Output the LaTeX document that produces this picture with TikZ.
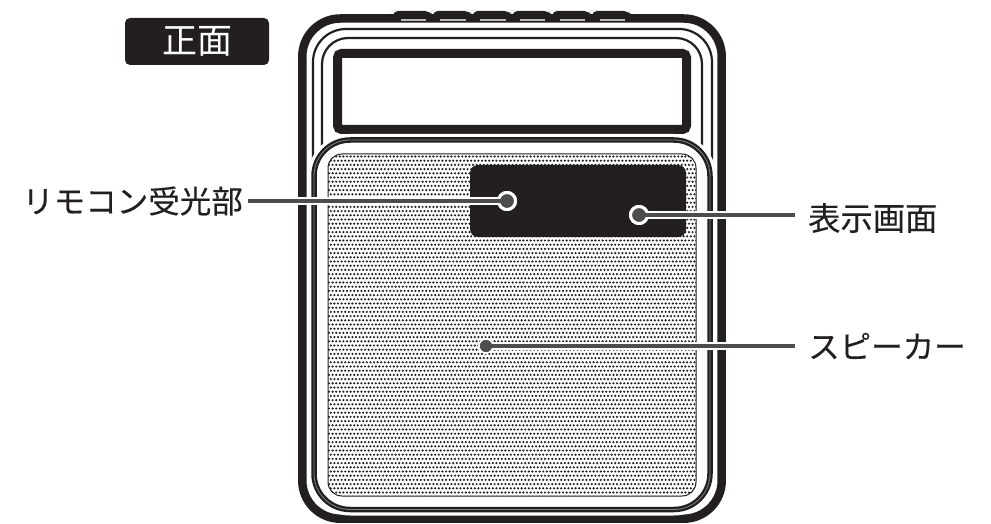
\documentclass[tikz,border=0pt]{standalone}
\usepackage{fontspec}
\newfontfamily\jpfont[FakeBold=0.25]{Noto Sans CJK JP}
\newfontfamily\jpbadge{Noto Sans CJK JP}
\definecolor{ink}{HTML}{231F20}
\definecolor{leadc}{HTML}{4D4D4F}
\tikzset{
  x=1pt,y=-1pt,
  body/.style={draw=ink,line width=8.5pt},
  thinline/.style={draw=ink,line width=2.2pt},
  halo/.style={draw=white,line width=8pt},
  leader/.style={draw=leadc,line width=4pt},
  lab/.style={font=\jpfont\fontsize{31.5}{32}\selectfont,text=ink,inner sep=0pt},
  ringdot/.style={circle,fill=leadc,draw=white,line width=3pt,minimum size=17pt,inner sep=0pt},
  plaindot/.style={circle,fill=leadc,draw=white,line width=1.5pt,minimum size=14pt,inner sep=0pt},
}
\begin{document}
\begin{tikzpicture}
\useasboundingbox (0,0) rectangle (991,524);
% top buttons
\foreach \i in {0,...,5}{
  \fill[ink,rounded corners=5pt] ({393+39.8*\i},11) -- ({393+39.8*\i+3},11) -- ({393+39.8*\i+37},11) -- ({393+39.8*\i+39.8},16) -- ({393+39.8*\i+39.8},24) -- ({393+39.8*\i},24) -- cycle;
}
% body
\draw[body,fill=white,rounded corners=38pt] (302.3,18.5) rectangle (721.7,518.7);
\foreach \i in {0,...,5}{
  \draw[gray!55,line width=1.3pt] ({400.5+39.8*\i},20) -- ({426+39.8*\i},20);
}
% inner outlines
\draw[thinline,rounded corners=33pt] (313,29) rectangle (712,512);
\draw[thinline,rounded corners=26pt] (322,38) rectangle (702,300);
% window
\draw[ink,line width=9pt,rounded corners=4pt] (337.5,53.5) rectangle (686.5,129.5);
% front panel
\draw[draw=white,fill=white,line width=12pt,rounded corners=36pt] (314,140) rectangle (710,509.5);
\draw[draw=ink,line width=5.5pt,rounded corners=36pt] (314,140) rectangle (710,509.5);
\draw[draw=gray,line width=0.8pt,rounded corners=36pt] (314,140) rectangle (710,509.5);
% grille
\begin{scope}
  \clip[rounded corners=14pt] (328,154) rectangle (696,496);
  \foreach \r in {0,...,81}{
    \pgfmathsetmacro{\yy}{156.5+4.2*\r}
    \pgfmathsetmacro{\off}{mod(\r,2)*1.8}
    \fill[ink] \foreach \c in {0,...,102}{ ({329+\off+3.6*\c},\yy) circle[radius=1.2pt] };
  }
\end{scope}
\draw[ink,line width=1pt,rounded corners=14pt] (328,154) rectangle (696,496);
% display
\fill[ink,rounded corners=8pt] (470,165) rectangle (686,237);
% badge
\node[fill=ink,rounded corners=5pt,minimum width=144pt,minimum height=47pt,inner sep=0pt,text=white,font=\jpbadge\fontsize{35}{35}\selectfont] (badge) at (197,41.5) {正面};
% labels
\node[lab,anchor=east] (remote) at (243,201) {リモコン受光部};
\node[lab,anchor=west,font=\jpfont\fontsize{32.3}{33}\selectfont] (display) at (808,218) {表示画面};
\node[lab,anchor=west] (speaker) at (808,346) {スピーカー};
% leader targets
\node[ringdot] (d1) at (507,201) {};
\node[ringdot] (d2) at (639,215) {};
\node[plaindot] (d3) at (486,346) {};
\coordinate (e1) at (248,201);
\coordinate (e2) at (795,215);
\coordinate (e3) at (795,346);
\coordinate (h1) at (252,201);
\coordinate (h2) at (791,215);
\coordinate (h3) at (791,346);
\draw[halo] (h1) -- (d1.center);
\draw[halo] (h2) -- (d2.center);
\draw[halo] (h3) -- (d3.center);
\node[ringdot] at (d1) {};
\node[ringdot] at (d2) {};
\node[plaindot] at (d3) {};
\draw[leader] (e1) -- (d1.center);
\draw[leader] (e2) -- (d2.center);
\draw[leader] (e3) -- (d3.center);
\end{tikzpicture}
\end{document}
